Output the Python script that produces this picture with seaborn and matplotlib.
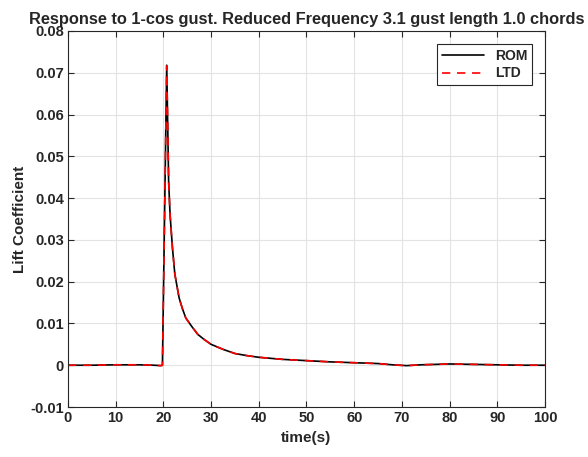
import matplotlib
matplotlib.use("Agg")
import matplotlib.pyplot as plt
import seaborn as sns
import pandas as pd

# values
time_s = [0, 5, 10, 15, 18, 19.5, 19.8, 20.7, 21.1, 21.4, 21.9, 22.4, 23.3,
          24, 24.7, 26, 27.2, 28.5, 30, 32.5, 35, 37.5, 40, 45, 50, 55, 60,
          65, 68, 71, 74, 80, 85, 90, 95, 100]
rom_cl = [0, 0, 0.0001, 0.0001, 0, -0.0001, 0.0, 0.0718, 0.0441, 0.0361,
          0.0281, 0.0218, 0.0161, 0.0135, 0.0113, 0.0092, 0.0074, 0.0062,
          0.0050, 0.0038, 0.0028, 0.0023, 0.0019, 0.0014, 0.0011, 0.0008,
          0.0006, 0.0004, 0.0001, -0.0001, 0.0001, 0.0003, 0.0002, 0.0001,
          0.0, 0.0]
ltd_cl = [0, 0, 0.0001, 0.0001, 0, -0.0001, 0.0, 0.0716, 0.0440, 0.0360,
          0.0281, 0.0218, 0.0161, 0.0135, 0.0113, 0.0092, 0.0074, 0.0062,
          0.0050, 0.0038, 0.0028, 0.0023, 0.0019, 0.0014, 0.0011, 0.0008,
          0.0006, 0.0004, 0.0001, -0.0001, 0.0001, 0.0003, 0.0002, 0.0001,
          0.0, 0.0]

df = pd.DataFrame({"time": time_s, "ROM": rom_cl, "LTD": ltd_cl})

sns.set_style("whitegrid")
plt.rcParams["font.family"] = ["Liberation Sans", "DejaVu Sans"]
plt.rcParams["font.weight"] = "bold"

fig = plt.figure(figsize=(5.88, 4.57), dpi=100)
ax = fig.add_axes([0.1156, 0.1094, 0.8113, 0.8228])

sns.lineplot(data=df, x="time", y="ROM", color="black", linewidth=1.2,
             label="ROM", ax=ax)
sns.lineplot(data=df, x="time", y="LTD", color="red", linewidth=1.2,
             linestyle=(0, (5, 4)), label="LTD", ax=ax)

ax.set_xlim(0, 100)
ax.set_ylim(-0.01, 0.08)
ax.set_xticks(range(0, 101, 10))
ax.set_yticks([i / 100 for i in range(-1, 9)])
ax.set_yticklabels(["-0.01", "0", "0.01", "0.02", "0.03", "0.04", "0.05",
                    "0.06", "0.07", "0.08"])
ax.grid(True, color="#e3e3e3", linewidth=0.8)
for s in ax.spines.values():
    s.set_color("#262626")
    s.set_linewidth(0.8)
ax.tick_params(direction="in", length=4, top=True, right=True, labelsize=10.5,
               colors="#262626", labelcolor="#262626", pad=3)
ax.tick_params(axis="both", which="both", bottom=True, left=True)

ax.set_title("Response to 1-cos gust. Reduced Frequency 3.1 gust length 1.0 chords",
             fontsize=11.8, fontweight="bold", pad=5)
ax.set_xlabel("time(s)", fontsize=11, fontweight="bold", labelpad=4)
ax.set_ylabel("Lift Coefficient", fontsize=11, fontweight="bold", labelpad=2)

leg = ax.legend(loc="upper right", bbox_to_anchor=(0.973, 0.965),
                borderaxespad=0, fontsize=10, fancybox=False, framealpha=1,
                edgecolor="#262626", handlelength=3, borderpad=0.35,
                labelspacing=0.25)
leg.get_frame().set_linewidth(0.8)

fig.savefig("out.png", dpi=100)
